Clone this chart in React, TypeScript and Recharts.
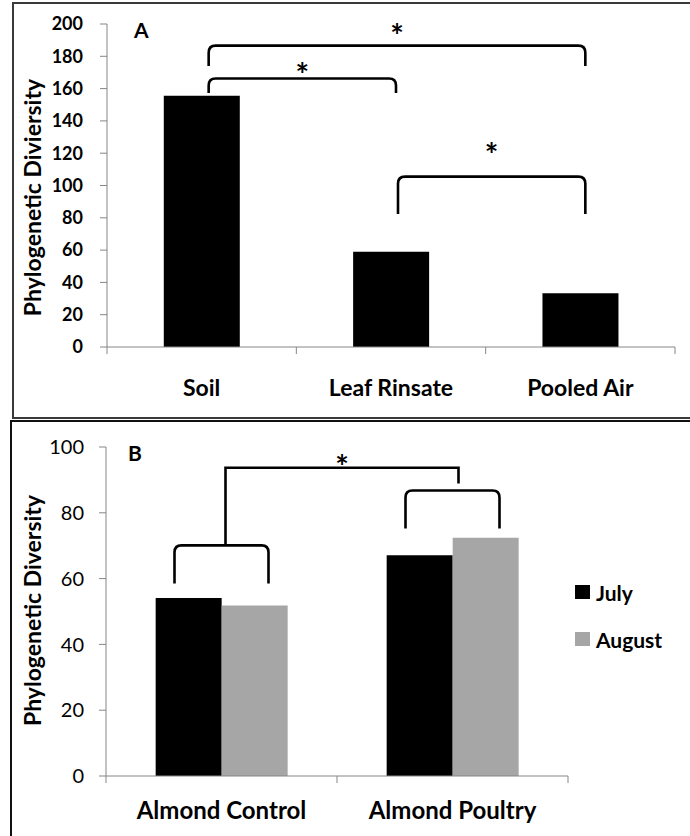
import { Bar, BarChart, Legend, ReferenceLine, XAxis, YAxis } from "recharts";

const sitesA = ["Soil", "Leaf Rinsate", "Pooled Air"];
const diversityA = [155.5, 59, 33.3];
const ticksA = [0, 20, 40, 60, 80, 100, 120, 140, 160, 180, 200];

const groupsB = ["Almond Control", "Almond Poultry"];
const julyB = [54.1, 67.1];
const augustB = [51.8, 72.4];
const ticksB = [0, 20, 40, 60, 80, 100];
const monthsB = ["July", "August"];

// significance brackets, heights in data units
const bracketsA = [
  { from: "Soil", to: "Pooled Air", top: 186.6, leftBase: 174, rightBase: 174, star: 196.3 },
  { from: "Soil", to: "Leaf Rinsate", top: 166.3, leftBase: 157.2, rightBase: 157.2, star: 172 },
  { from: "Leaf Rinsate", to: "Pooled Air", top: 105.5, leftBase: 82.4, rightBase: 82.4, star: 122.3 },
];
const bracketsB = [
  { from: "Almond Control", to: "Almond Control", top: 70.1, leftBase: 58.5, rightBase: 58.5 },
  { from: "Almond Poultry", to: "Almond Poultry", top: 86.8, leftBase: 75.2, rightBase: 75.2 },
  { from: "Almond Control", to: "Almond Poultry", top: 93.7, leftBase: 70.1, rightBase: 88.9, star: 95.7 },
];

const dataA = sitesA.map((name, i) => ({ name, value: diversityA[i] }));
const dataB = groupsB.map((name, i) => ({ name, july: julyB[i], august: augustB[i] }));

const FONT = "Lato, 'Noto Sans', sans-serif";
const AXIS = "#868686";

type Bracket = {
  from: string;
  to: string;
  top: number;
  leftBase: number;
  rightBase: number;
  star?: number;
};

const makeBracket = (b: Bracket, nudgeL: number, nudgeR: number, spread: number) => (p: any) => {
  const { x1, y1, x2, y2 } = p;
  const k = (y1 - y2) / (b.top - b.leftBase);
  let xl = x1 + nudgeL;
  let xr = x2 + nudgeR;
  if (b.from === b.to) {
    xl = x1 - spread;
    xr = x1 + spread;
  }
  const yr = y2 + (b.top - b.rightBase) * k;
  const r = b.leftBase === b.rightBase ? 7 : 0;
  const d = `M${xl},${y1} L${xl},${y2 + r} Q${xl},${y2} ${xl + r},${y2} L${xr - r},${y2} Q${xr},${y2} ${xr},${y2 + r} L${xr},${yr}`;
  return (
    <g>
      <path d={d} fill="none" stroke="#000" strokeWidth={2.6} />
      {b.star !== undefined && (
        <text
          x={(xl + xr) / 2}
          y={y2 - (b.star - b.top) * k + 18}
          textAnchor="middle"
          fontSize={32}
          fontWeight="bold"
          fontFamily={FONT}
        >
          *
        </text>
      )}
    </g>
  );
};

const catTick = (count: number, fallbackHalf: number, fontSize: number, dy: number) => (p: any) => {
  const { x, y, payload, index } = p;
  const half = payload && payload.offset ? payload.offset : fallbackHalf;
  return (
    <g>
      <line x1={x - half} y1={y} x2={x - half} y2={y + 7} stroke={AXIS} />
      {index === count - 1 && <line x1={x + half} y1={y} x2={x + half} y2={y + 7} stroke={AXIS} />}
      <text x={x} y={y + dy} textAnchor="middle" dominantBaseline="central" fontSize={fontSize} fontWeight="bold" fontFamily={FONT} fill="#000">
        {payload.value}
      </text>
    </g>
  );
};

const yLabel = (text: string, dx: number, dy: number, fontSize: number) => (p: any) => {
  const vb = p.viewBox || { x: 0, y: 0, width: 0, height: 0 };
  const cx = vb.x + dx;
  const cy = vb.y + vb.height / 2 + dy;
  return (
    <text
      transform={`translate(${cx}, ${cy}) rotate(-90)`}
      textAnchor="middle"
      dominantBaseline="central"
      fontSize={fontSize}
      fontWeight="bold"
      fontFamily={FONT}
      fill="#000"
    >
      {text}
    </text>
  );
};

const LegendBox = (props: any) => {
  const items = [...(props.payload || [])].sort(
    (a: any, b: any) => monthsB.indexOf(a.value) - monthsB.indexOf(b.value)
  );
  return (
    <div style={{ fontFamily: FONT, fontWeight: "bold", fontSize: 21 }}>
      {items.map((e: any) => (
        <div key={e.value} style={{ display: "flex", alignItems: "center", height: 46.7 }}>
          <span style={{ display: "inline-block", width: 15, height: 14, background: e.color, marginRight: 6 }} />
          <span>{e.value}</span>
        </div>
      ))}
    </div>
  );
};

export default function App() {
  return (
    <div style={{ position: "absolute", left: 0, top: 0, width: 690, height: 836, overflow: "hidden", background: "#fff" }}>
      <div style={{ position: "absolute", left: 12, top: 2, width: 700, height: 417, border: "2px solid #3a3a3a", boxSizing: "border-box" }} />
      <div style={{ position: "absolute", left: 10, top: 420, width: 700, height: 440, border: "2px solid #111", boxSizing: "border-box" }} />

      <div style={{ position: "absolute", left: 0, top: 0 }}>
        <BarChart width={690} height={420} data={dataA} margin={{ top: 24, right: 15, left: 0, bottom: 0 }} barCategoryGap="30%">
          <XAxis
            dataKey="name"
            height={73}
            stroke={AXIS}
            tickLine={false}
            tickSize={0}
            tickMargin={0}
            interval={0}
            tick={catTick(sitesA.length, 94.7, 23, 40)}
          />
          <YAxis
            width={107}
            domain={[0, 200]}
            ticks={ticksA}
            interval={0}
            stroke={AXIS}
            tickSize={7}
            tickMargin={17}
            tick={{ fontSize: 18, fontWeight: "bold", fill: "#000", fontFamily: FONT }}
            label={{ content: yLabel("Phylogenetic Diviersity", 32, 12, 23) }}
          />
          <Bar dataKey="value" fill="#000" isAnimationActive={false} />
          {bracketsA.map((b, i) => (
            <ReferenceLine
              key={i}
              segment={[{ x: b.from, y: b.leftBase }, { x: b.to, y: b.top }]}
              ifOverflow="visible"
              shape={makeBracket(b, 7, 5, 0)}
            />
          ))}
        </BarChart>
      </div>
      <div style={{ position: "absolute", left: 134, top: 17, fontFamily: FONT, fontWeight: "bold", fontSize: 21 }}>A</div>

      <div style={{ position: "absolute", left: 0, top: 420 }}>
        <BarChart width={690} height={416} data={dataB} margin={{ top: 27, right: 122, left: 0, bottom: 0 }} barCategoryGap="21.5%" barGap={0}>
          <XAxis
            dataKey="name"
            height={60}
            stroke={AXIS}
            tickLine={false}
            tickSize={0}
            tickMargin={0}
            interval={0}
            tick={catTick(groupsB.length, 115.5, 24, 33)}
          />
          <YAxis
            width={106}
            domain={[0, 100]}
            ticks={ticksB}
            interval={0}
            stroke={AXIS}
            tickSize={7}
            tickMargin={15}
            tick={{ fontSize: 20, fill: "#000", fontFamily: FONT }}
            label={{ content: yLabel("Phylogenetic Diversity", 32, -1, 23) }}
          />
          <Legend
            layout="vertical"
            align="center"
            verticalAlign="middle"
            content={<LegendBox />}
            wrapperStyle={{ left: 575, top: 149, width: 115 }}
          />
          <Bar dataKey="july" name="July" fill="#000" isAnimationActive={false} />
          <Bar dataKey="august" name="August" fill="#a6a6a6" isAnimationActive={false} />
          {bracketsB.map((b, i) => (
            <ReferenceLine
              key={i}
              segment={[{ x: b.from, y: b.leftBase }, { x: b.to, y: b.top }]}
              ifOverflow="visible"
              shape={makeBracket(b, 4, 6, 47)}
            />
          ))}
        </BarChart>
      </div>
      <div style={{ position: "absolute", left: 128, top: 440, fontFamily: FONT, fontWeight: "bold", fontSize: 21 }}>B</div>
    </div>
  );
}
